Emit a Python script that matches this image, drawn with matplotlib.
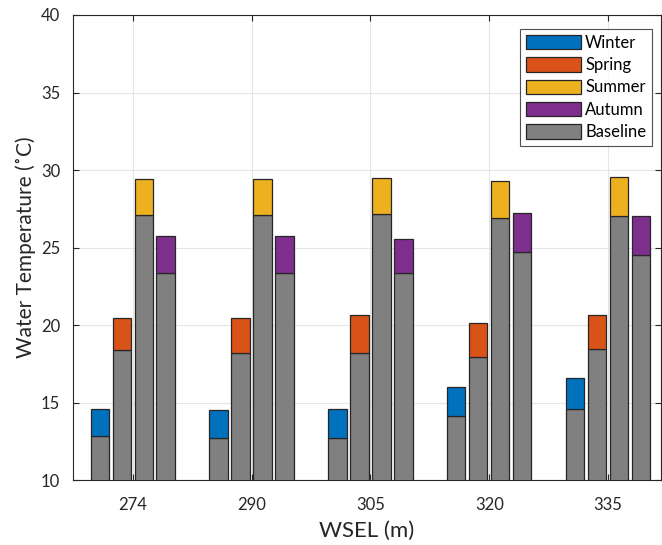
import matplotlib
matplotlib.use("Agg")
import matplotlib.pyplot as plt
import numpy as np

plt.rcParams['font.family'] = ['Lato', 'DejaVu Sans']

wsel_labels = ['274', '290', '305', '320', '335']
seasons = ['Winter', 'Spring', 'Summer', 'Autumn']
season_colors = ['#0072BD', '#D95319', '#EDB120', '#7E2F8E']
baseline_color = '#808080'

# baseline values per season for each WSEL
baseline = {
    'Winter': [12.84, 12.75, 12.75, 14.11, 14.62],
    'Spring': [18.37, 18.22, 18.22, 17.96, 18.43],
    'Summer': [27.10, 27.12, 27.14, 26.88, 27.05],
    'Autumn': [23.38, 23.33, 23.33, 24.69, 24.50],
}
# total temperature with season scenario
total = {
    'Winter': [14.56, 14.54, 14.62, 16.02, 16.60],
    'Spring': [20.45, 20.43, 20.62, 20.13, 20.62],
    'Summer': [29.40, 29.40, 29.48, 29.31, 29.53],
    'Autumn': [25.74, 25.74, 25.53, 27.23, 27.01],
}

fig = plt.figure(figsize=(6.62, 5.45), dpi=100)
ax = fig.add_axes([0.110, 0.119, 0.8885, 0.8535])

x = np.arange(1, len(wsel_labels) + 1)
spacing = 0.185
width = 0.155
offsets = (np.arange(4) - 1.5) * spacing
edge = '#262626'

handles = []
for i, s in enumerate(seasons):
    b = np.array(baseline[s])
    t = np.array(total[s])
    hb = ax.bar(x + offsets[i], b, width, color=baseline_color, edgecolor=edge,
                linewidth=0.9, zorder=3)
    hs = ax.bar(x + offsets[i], t - b, width, bottom=b, color=season_colors[i],
                edgecolor=edge, linewidth=0.9, zorder=3, label=s)
    handles.append(hs)
handles.append(hb)

ax.set_xlim(0.496, 5.445)
ax.set_ylim(10, 40)
ax.set_xticks(x)
ax.set_xticklabels(wsel_labels)
ax.set_yticks(np.arange(10, 41, 5))
ax.grid(True, color='#e6e6e6', linewidth=0.8, zorder=0)
ax.set_axisbelow(True)
ax.tick_params(direction='in', top=True, right=True, labelsize=12,
               colors='#262626', length=4, width=0.8)
ax.tick_params(axis='x', pad=12)
ax.tick_params(axis='y', pad=9)
for sp in ax.spines.values():
    sp.set_color('#262626')
    sp.set_linewidth(0.8)

ax.set_xlabel('WSEL (m)', fontsize=16, color='#262626', labelpad=6)
ax.set_ylabel('Water Temperature (˚C)', fontsize=15, color='#262626', labelpad=4)

leg = ax.legend(handles, seasons + ['Baseline'], loc='upper right',
                bbox_to_anchor=(0.9847, 0.970), fontsize=12, frameon=True,
                fancybox=False, edgecolor='#262626', handlelength=3.3,
                handleheight=0.95, labelspacing=0.38, borderpad=0.35,
                handletextpad=0.25, borderaxespad=0.0)
leg.get_frame().set_linewidth(0.8)

fig.savefig('out.png', dpi=100)
